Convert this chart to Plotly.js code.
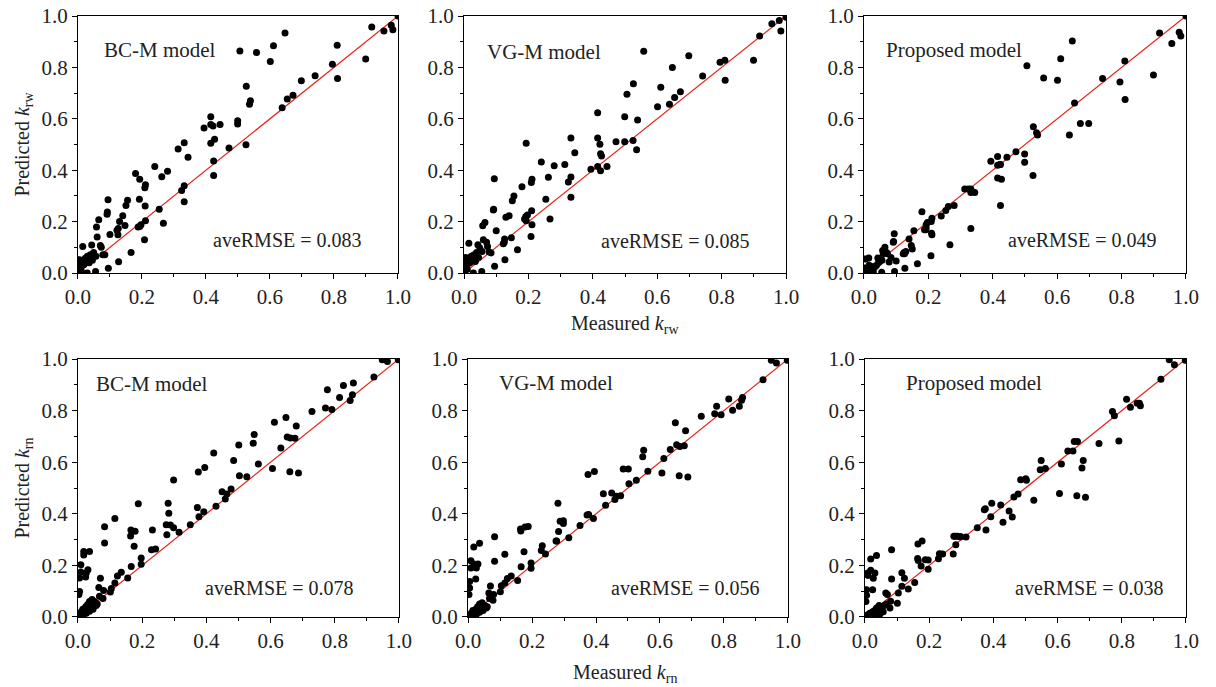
<!DOCTYPE html>
<html>
<head>
<meta charset="utf-8">
<script src="https://cdn.plot.ly/plotly-3.0.1.min.js"></script>
<style>html,body{margin:0;padding:0;background:#fff;}#chart{width:1216px;height:687px;}</style>
</head>
<body>
<div id="chart"></div>
<script>
// ---- Top row: k_rw ----
var measuredRw = [1.000,0.918,0.956,0.979,0.984,0.899,0.795,0.810,0.811,0.741,0.698,0.672,0.654,0.638,0.647,0.611,0.601,0.558,0.506,0.526,0.539,0.536,0.525,0.499,0.499,0.472,0.444,0.415,0.415,0.422,0.427,0.415,0.424,0.424,0.394,0.332,0.313,0.344,0.332,0.324,0.332,0.280,0.262,0.240,0.254,0.267,0.211,0.209,0.210,0.211,0.208,0.180,0.193,0.192,0.197,0.193,0.188,0.155,0.150,0.147,0.140,0.130,0.126,0.122,0.125,0.127,0.094,0.092,0.091,0.100,0.095,0.065,0.058,0.060,0.070,0.073,0.078,0.084,0.166,0.015,0.043,0.049,0.056,0.055,0.029,0.005,0.010,0.016,0.023,0.030,0.039,0.010,0.003,0.007,0.018,0.024,0.005,0.035,0.045];
var bcRw = [1.000,0.957,0.942,0.964,0.947,0.833,0.812,0.886,0.757,0.768,0.748,0.692,0.677,0.643,0.934,0.884,0.823,0.858,0.864,0.727,0.670,0.657,0.499,0.592,0.580,0.486,0.578,0.608,0.578,0.572,0.520,0.505,0.436,0.379,0.564,0.507,0.483,0.450,0.340,0.321,0.277,0.396,0.375,0.414,0.248,0.194,0.343,0.332,0.261,0.203,0.129,0.387,0.365,0.287,0.188,0.181,0.179,0.283,0.263,0.185,0.223,0.200,0.173,0.166,0.149,0.044,0.285,0.237,0.229,0.150,0.019,0.207,0.179,0.140,0.107,0.100,0.071,0.071,0.080,0.103,0.109,0.080,0.065,0.006,0.000,0.039,0.026,0.049,0.057,0.065,0.071,0.010,0.005,0.019,0.032,0.045,0.052,0.040,0.050];
var vgRw = [0.995,0.922,0.970,0.983,0.942,0.828,0.820,0.828,0.750,0.767,0.845,0.705,0.683,0.657,0.800,0.723,0.647,0.863,0.696,0.736,0.595,0.480,0.516,0.608,0.511,0.511,0.414,0.624,0.525,0.501,0.455,0.414,0.464,0.398,0.404,0.525,0.422,0.468,0.374,0.354,0.295,0.417,0.373,0.432,0.287,0.210,0.365,0.352,0.242,0.188,0.142,0.336,0.505,0.220,0.226,0.203,0.210,0.300,0.281,0.137,0.223,0.217,0.132,0.114,0.120,0.052,0.367,0.248,0.245,0.164,0.026,0.197,0.184,0.129,0.120,0.103,0.082,0.078,0.091,0.116,0.110,0.097,0.084,0.006,0.000,0.045,0.032,0.058,0.065,0.070,0.080,0.015,0.008,0.022,0.040,0.050,0.060,0.045,0.060];
var prRw = [1.000,0.934,0.893,0.937,0.922,0.770,0.743,0.825,0.675,0.757,0.582,0.582,0.662,0.537,0.903,0.834,0.750,0.759,0.806,0.569,0.537,0.546,0.379,0.463,0.431,0.472,0.450,0.453,0.419,0.422,0.365,0.370,0.422,0.263,0.435,0.327,0.327,0.313,0.313,0.327,0.173,0.263,0.259,0.222,0.243,0.110,0.213,0.200,0.155,0.149,0.067,0.238,0.188,0.168,0.197,0.175,0.168,0.164,0.093,0.107,0.132,0.084,0.075,0.075,0.080,0.019,0.153,0.123,0.120,0.047,0.006,0.100,0.088,0.075,0.080,0.075,0.043,0.060,0.036,0.058,0.058,0.045,0.050,0.003,0.005,0.020,0.010,0.030,0.025,0.020,0.030,0.005,0.002,0.008,0.015,0.018,0.055,0.025,0.040];

// ---- Bottom row: k_rn ----
var measuredRn = [0.998,0.948,0.964,0.922,0.858,0.827,0.777,0.815,0.855,0.848,0.771,0.791,0.729,0.612,0.648,0.680,0.652,0.662,0.676,0.632,0.660,0.687,0.606,0.562,0.549,0.546,0.501,0.503,0.526,0.423,0.485,0.395,0.375,0.477,0.449,0.464,0.459,0.430,0.392,0.377,0.372,0.350,0.298,0.281,0.283,0.275,0.288,0.298,0.277,0.315,0.232,0.242,0.229,0.188,0.165,0.178,0.164,0.175,0.197,0.197,0.166,0.155,0.083,0.083,0.115,0.135,0.123,0.115,0.104,0.101,0.070,0.065,0.080,0.078,0.067,0.005,0.018,0.036,0.018,0.009,0.009,0.024,0.026,0.031,0.005,0.003,0.005,0.010,0.015,0.024,0.030,0.036,0.044,0.052,0.057,0.047,0.036,0.026,0.016,0.060,0.040];
var bcRn = [0.997,0.997,0.990,0.930,0.907,0.897,0.881,0.851,0.862,0.839,0.810,0.804,0.797,0.755,0.773,0.740,0.698,0.694,0.693,0.655,0.563,0.558,0.576,0.593,0.707,0.674,0.667,0.548,0.544,0.636,0.607,0.580,0.562,0.496,0.486,0.477,0.457,0.429,0.408,0.389,0.424,0.358,0.531,0.441,0.402,0.358,0.357,0.346,0.319,0.329,0.337,0.264,0.261,0.439,0.337,0.332,0.314,0.274,0.229,0.204,0.196,0.151,0.350,0.287,0.382,0.173,0.159,0.132,0.110,0.097,0.150,0.114,0.103,0.072,0.080,0.151,0.254,0.254,0.240,0.203,0.174,0.155,0.171,0.183,0.099,0.087,0.010,0.020,0.030,0.040,0.048,0.060,0.068,0.060,0.045,0.030,0.022,0.015,0.008,0.050,0.040];
var vgRn = [0.995,0.995,0.985,0.920,0.851,0.801,0.817,0.845,0.840,0.817,0.788,0.784,0.778,0.614,0.753,0.722,0.668,0.661,0.664,0.649,0.548,0.543,0.558,0.565,0.646,0.621,0.574,0.517,0.530,0.478,0.574,0.564,0.552,0.470,0.481,0.468,0.455,0.433,0.382,0.397,0.395,0.355,0.373,0.441,0.331,0.295,0.371,0.362,0.295,0.307,0.276,0.244,0.258,0.351,0.333,0.349,0.341,0.253,0.209,0.189,0.195,0.141,0.311,0.216,0.243,0.159,0.149,0.132,0.121,0.098,0.120,0.093,0.087,0.065,0.072,0.138,0.271,0.286,0.205,0.190,0.218,0.147,0.190,0.205,0.112,0.087,0.008,0.015,0.025,0.030,0.040,0.050,0.055,0.045,0.035,0.025,0.018,0.010,0.005,0.040,0.035];
var prRn = [0.995,0.997,0.978,0.922,0.819,0.813,0.780,0.844,0.829,0.829,0.797,0.682,0.673,0.593,0.643,0.607,0.680,0.680,0.578,0.643,0.470,0.464,0.479,0.576,0.607,0.571,0.536,0.530,0.453,0.434,0.532,0.441,0.420,0.477,0.411,0.465,0.388,0.367,0.389,0.337,0.416,0.346,0.311,0.313,0.280,0.244,0.313,0.311,0.313,0.310,0.245,0.244,0.226,0.222,0.283,0.295,0.227,0.198,0.221,0.185,0.219,0.134,0.261,0.147,0.172,0.109,0.150,0.119,0.093,0.053,0.087,0.093,0.061,0.035,0.050,0.106,0.225,0.238,0.181,0.171,0.161,0.106,0.150,0.171,0.084,0.060,0.005,0.010,0.015,0.020,0.025,0.035,0.045,0.030,0.020,0.012,0.010,0.006,0.003,0.045,0.025];

var panelLabels = ["BC-M model","VG-M model","Proposed model","BC-M model","VG-M model","Proposed model"];
var rmseLabels = ["aveRMSE = 0.083","aveRMSE = 0.085","aveRMSE = 0.049","aveRMSE = 0.078","aveRMSE = 0.056","aveRMSE = 0.038"];
var tickVals = [0,0.2,0.4,0.6,0.8,1.0];
var tickText = ["0.0","0.2","0.4","0.6","0.8","1.0"];
var minorVals = [0.1,0.3,0.5,0.7,0.9];
var lineXY = [0,1];
var xTitles = ["Measured <i>k</i><sub>rw</sub>","Measured <i>k</i><sub>rn</sub>"];
var yTitles = ["Predicted <i>k</i><sub>rw</sub>","Predicted <i>k</i><sub>rn</sub>"];

var FONT = "Liberation Serif, Times New Roman, serif";
var TXT = "#222";
var xs = [measuredRw,measuredRw,measuredRw,measuredRn,measuredRn,measuredRn];
var ys = [bcRw,vgRw,prRw,bcRn,vgRn,prRn];

var xDomains = [[0.0641,0.3273],[0.3816,0.6464],[0.7105,0.9753],[0.0641,0.3281],[0.3849,0.6480],[0.7113,0.9753]];
var yDomains = [[0.6026,0.9767],[0.6026,0.9767],[0.6026,0.9767],[0.1019,0.4774],[0.1019,0.4774],[0.1019,0.4774]];
var labelPos = [[0.075,0.868],[0.065,0.86],[0.062,0.868],[0.05,0.903],[0.09,0.907],[0.121,0.907]];
var rmsePos = [[0.415,0.128],[0.419,0.125],[0.441,0.128],[0.389,0.112],[0.44,0.112],[0.461,0.112]];

var traces = [];
var layout = {
  width:1216, height:687,
  margin:{l:0,r:0,t:0,b:0},
  paper_bgcolor:"#fff", plot_bgcolor:"#fff",
  showlegend:false,
  font:{family:FONT, size:20, color:TXT},
  annotations:[]
};

for (var i=0;i<6;i++){
  var n = i+1;
  var xa = n===1 ? "x" : "x"+n;
  var ya = n===1 ? "y" : "y"+n;
  traces.push({x:lineXY, y:lineXY, xaxis:xa, yaxis:ya, mode:"lines", type:"scatter",
               line:{color:"#e8221b", width:1.2}, hoverinfo:"skip"});
  traces.push({x:xs[i], y:ys[i], xaxis:xa, yaxis:ya, mode:"markers", type:"scatter",
               marker:{color:"#000", size:7}});
  var axBase = {
    range:[0,1], showgrid:false, zeroline:false, showline:true, mirror:true,
    linecolor:"#000", linewidth:1, ticks:"outside", ticklen:5, tickwidth:1, tickcolor:"#000",
    tickvals:tickVals, ticktext:tickText, tickfont:{family:FONT,size:21,color:TXT},
    minor:{tickvals:minorVals, ticks:"outside", ticklen:3, tickwidth:1, tickcolor:"#000"},
    fixedrange:true
  };
  var xax = JSON.parse(JSON.stringify(axBase));
  xax.domain = xDomains[i];
  xax.anchor = ya;
  var yax = JSON.parse(JSON.stringify(axBase));
  yax.domain = yDomains[i];
  yax.anchor = xa;
  if (n===1) yax.title = {text:yTitles[0], font:{family:FONT,size:20,color:TXT}, standoff:6};
  if (n===4) yax.title = {text:yTitles[1], font:{family:FONT,size:20,color:TXT}, standoff:6};
  layout[n===1?"xaxis":"xaxis"+n] = xax;
  layout[n===1?"yaxis":"yaxis"+n] = yax;
  layout.annotations.push({xref:xa, yref:ya, x:labelPos[i][0], y:labelPos[i][1], text:panelLabels[i],
     showarrow:false, xanchor:"left", yanchor:"middle", font:{family:FONT,size:21,color:TXT}});
  layout.annotations.push({xref:xa, yref:ya, x:rmsePos[i][0], y:rmsePos[i][1], text:rmseLabels[i],
     showarrow:false, xanchor:"left", yanchor:"middle", font:{family:FONT,size:20,color:TXT}});
}
// shared x-axis titles
layout.annotations.push({xref:"paper", yref:"paper", x:0.514, y:0.527, text:xTitles[0],
   showarrow:false, xanchor:"center", yanchor:"middle", font:{family:FONT,size:20,color:TXT}});
layout.annotations.push({xref:"paper", yref:"paper", x:0.514, y:0.019, text:xTitles[1],
   showarrow:false, xanchor:"center", yanchor:"middle", font:{family:FONT,size:20,color:TXT}});

Plotly.newPlot("chart", traces, layout, {staticPlot:true, displayModeBar:false});
</script>
</body>
</html>
